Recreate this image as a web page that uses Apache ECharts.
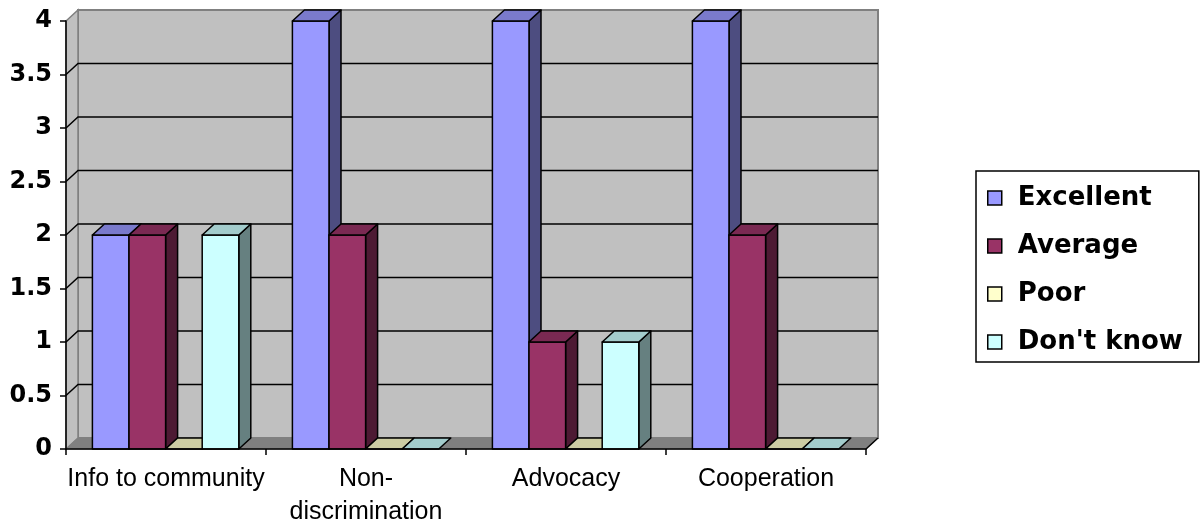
<!DOCTYPE html>
<html>
<head>
<meta charset="utf-8">
<script src="https://cdn.jsdelivr.net/npm/echarts@6/dist/echarts.min.js"></script>
<style>
  html, body { margin: 0; padding: 0; background: #fff; }
  #main { width: 1204px; height: 529px; }
</style>
</head>
<body>
<div id="main"></div>
<script>
// chart data
const categories = ["Info to community", "Non-\ndiscrimination", "Advocacy", "Cooperation"];
const seriesNames = ["Excellent", "Average", "Poor", "Don't know"];
const excellent = [2, 4, 4, 4];
const average = [2, 2, 1, 2];
const poor = [0, 0, 0, 0];
const dontKnow = [2, 0, 1, 0];
const yTicks = [0.5, 1, 1.5, 2, 2.5, 3, 3.5];

// excel-like 3d colors: front, top, side
const palette = [
  ["#9999FF", "#7A7ACC", "#4D4D80"],
  ["#993366", "#7A2952", "#4D1A33"],
  ["#FFFFCC", "#CCCCA3", "#808066"],
  ["#CCFFFF", "#A3CCCC", "#668080"],
];
const DX = 12, DY = 11; // depth of the 3d box
const FONT = "'Liberation Sans', Arial, sans-serif";
const BOLD_FONT = "'DejaVu Sans', 'Liberation Sans', sans-serif";

const chart = echarts.init(document.getElementById("main"));

function wallsItem(params, api) {
  const cs = params.coordSys;
  const x0 = cs.x, x1 = cs.x + cs.width;
  const top = cs.y, bot = cs.y + cs.height;
  const children = [];
  // back wall
  children.push({
    type: "rect",
    shape: { x: x0 + DX, y: top - DY, width: cs.width, height: cs.height },
    style: { fill: "#C0C0C0", stroke: "#808080", lineWidth: 2 },
  });
  // left side wall
  children.push({
    type: "polygon",
    shape: { points: [[x0, bot], [x0, top], [x0 + DX, top - DY], [x0 + DX, bot - DY]] },
    style: { fill: "#C0C0C0", stroke: "#808080", lineWidth: 1.5 },
  });
  // floor
  children.push({
    type: "polygon",
    shape: { points: [[x0, bot], [x0 + DX, bot - DY], [x1 + DX, bot - DY], [x1, bot]] },
    style: { fill: "#808080", stroke: "#808080", lineWidth: 1 },
  });
  // gridlines across the side wall and back wall
  yTicks.forEach(function (v) {
    const y = api.coord([0, v])[1];
    children.push({
      type: "polyline",
      shape: { points: [[x0, y], [x0 + DX, y - DY], [x1 + DX, y - DY]] },
      style: { fill: null, stroke: "#000", lineWidth: 1.5 },
    });
  });
  // right front floor edge
  children.push({
    type: "line",
    shape: { x1: x1, y1: bot, x2: x1 + DX, y2: bot - DY },
    style: { stroke: "#000", lineWidth: 1.5 },
  });
  return { type: "group", children: children };
}

function barRenderer(idx) {
  return function (params, api) {
    const c = api.coord([api.value(0), api.value(1)]);
    const base = api.coord([api.value(0), 0])[1];
    const band = api.size([1, 0])[0];
    const w = band * 0.183;
    const x0 = c[0] - band / 2 + band * 0.132 + idx * w;
    const y = c[1];
    const cols = palette[idx];
    const line = { stroke: "#000", lineWidth: 1.5, lineJoin: "round" };
    const children = [];
    if (base - y > 0.5) {
      children.push({
        type: "polygon",
        shape: { points: [[x0 + w, y], [x0 + w + DX, y - DY], [x0 + w + DX, base - DY], [x0 + w, base]] },
        style: Object.assign({ fill: cols[2] }, line),
      });
      children.push({
        type: "rect",
        shape: { x: x0, y: y, width: w, height: base - y },
        style: Object.assign({ fill: cols[0] }, line),
      });
    }
    children.push({
      type: "polygon",
      shape: { points: [[x0, y], [x0 + DX, y - DY], [x0 + w + DX, y - DY], [x0 + w, y]] },
      style: Object.assign({ fill: cols[1] }, line),
    });
    return { type: "group", children: children };
  };
}

const valueLists = [excellent, average, poor, dontKnow];
const barSeries = seriesNames.map(function (name, i) {
  return {
    name: name,
    type: "custom",
    z: 3,
    itemStyle: { color: palette[i][0] },
    renderItem: barRenderer(i),
    data: valueLists[i].map(function (v, k) { return [k, v]; }),
  };
});

chart.setOption({
  backgroundColor: "#ffffff",
  animation: false,
  grid: { left: 66, top: 21, width: 800, height: 434 },
  legend: {
    orient: "vertical",
    left: 976,
    top: 171,
    padding: [14, 16, 7, 11],
    itemGap: 22,
    itemWidth: 14,
    itemHeight: 14,
    icon: "rect",
    borderColor: "#000",
    borderWidth: 1.5,
    itemStyle: { borderColor: "#000", borderWidth: 1.5 },
    textStyle: { fontSize: 26, fontWeight: "bold", color: "#000", fontFamily: BOLD_FONT, padding: [0, 0, 0, 11] },
    data: seriesNames,
  },
  xAxis: {
    type: "category",
    data: categories,
    z: 5,
    axisLine: { show: true, lineStyle: { color: "#000", width: 1.5 } },
    axisTick: { show: true, length: 6, lineStyle: { color: "#000", width: 1.5 } },
    axisLabel: { color: "#000", fontSize: 25, fontFamily: FONT, margin: 14, lineHeight: 33, interval: 0 },
    splitLine: { show: false },
  },
  yAxis: {
    type: "value",
    min: 0,
    max: 4,
    interval: 0.5,
    z: 5,
    axisLine: { show: true, lineStyle: { color: "#000", width: 1.5 } },
    axisTick: { show: true, length: 6, lineStyle: { color: "#000", width: 1.5 } },
    axisLabel: { color: "#000", fontSize: 24, fontWeight: "bold", fontFamily: BOLD_FONT, margin: 14 },
    splitLine: { show: false },
  },
  series: [
    {
      type: "custom",
      name: "walls",
      z: 1,
      silent: true,
      renderItem: wallsItem,
      data: [[0, 0]],
    },
  ].concat(barSeries),
});
</script>
</body>
</html>
